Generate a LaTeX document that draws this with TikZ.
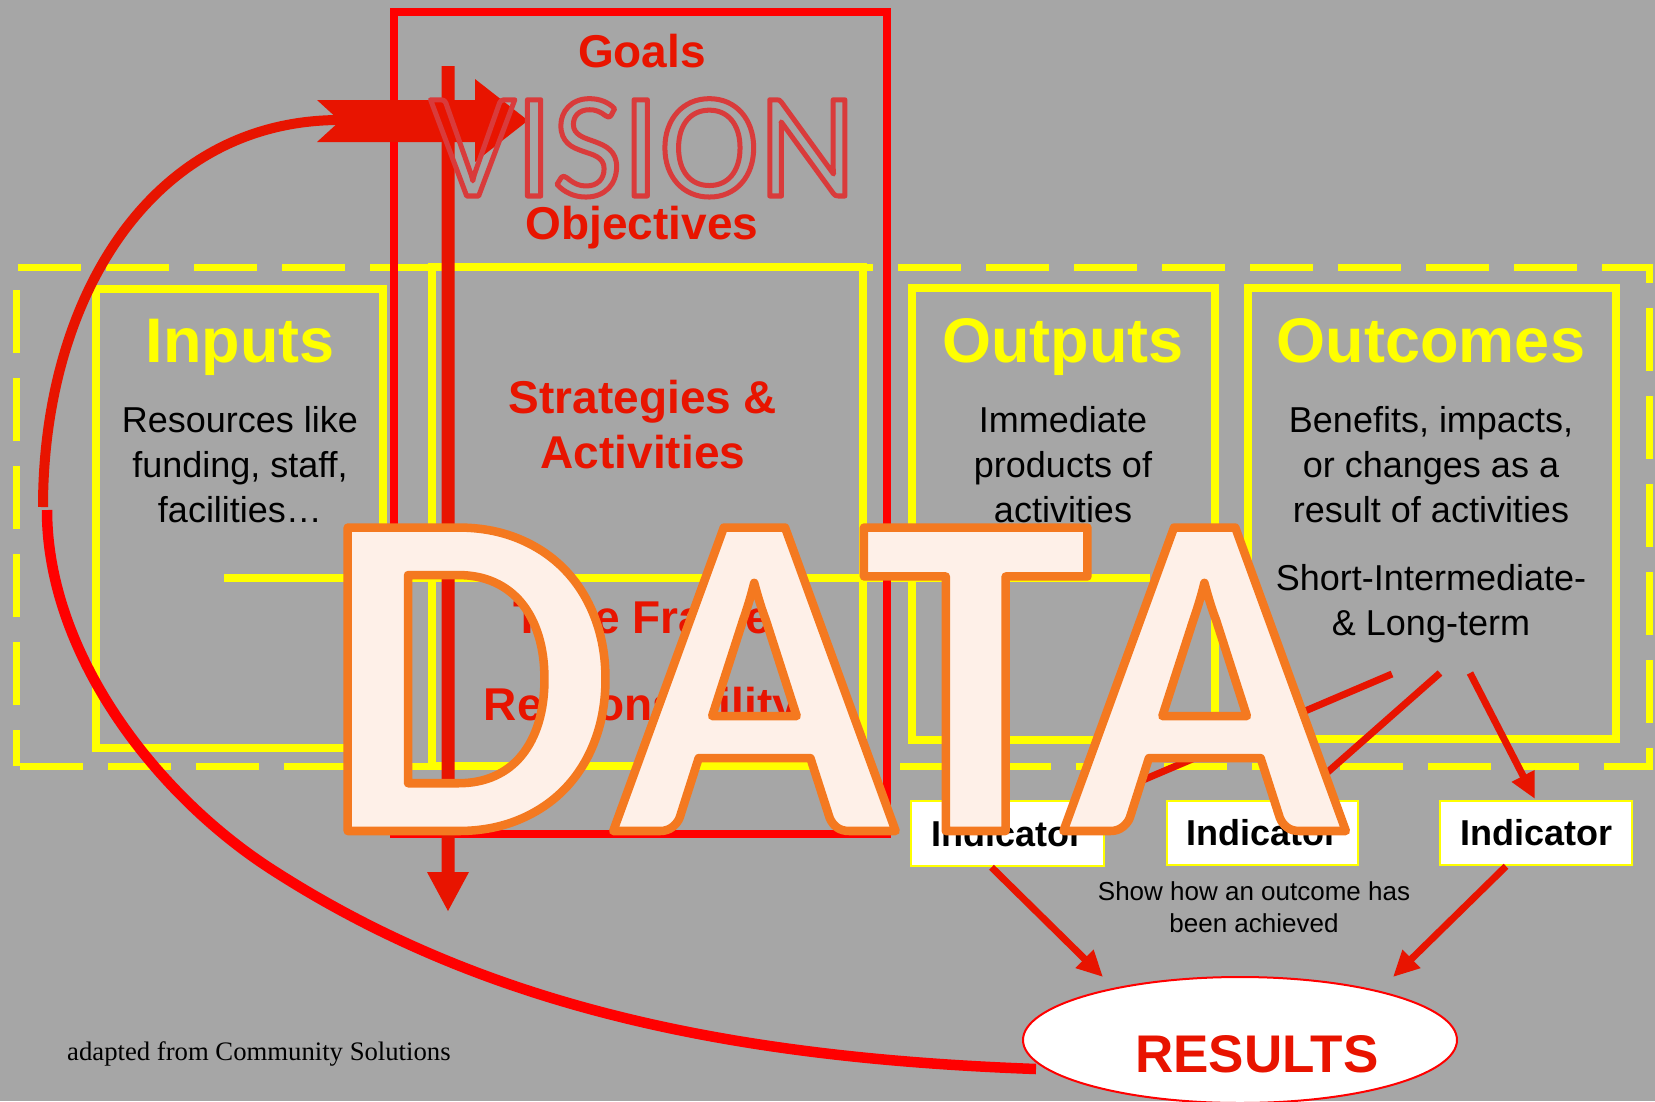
\documentclass[tikz,border=0pt]{standalone}
\usepackage{fontspec}
\setmainfont{Liberation Sans}
\newfontfamily\visfont{Carlito}
\newfontfamily\datafont{Carlito}[Kerning=Off]
\newfontfamily\serfont{Liberation Serif}
\usetikzlibrary{arrows.meta,shapes.geometric,calc}

\definecolor{bg}{HTML}{A6A6A6}
\definecolor{yel}{HTML}{FFFF00}
\definecolor{rd}{HTML}{FF0000}
\definecolor{ard}{HTML}{E81400}
\definecolor{txtred}{HTML}{E81400}
\definecolor{datafill}{HTML}{FEF0E8}
\definecolor{visred}{HTML}{D93B3B}

\newcommand\strokeonly[2]{\special{pdf:literal direct 1 Tr #1 w 1 j}#2\special{pdf:literal direct 0 Tr}}
\newcommand\fillstroke[3]{\special{pdf:literal direct 2 Tr #1 w 1 j #2 RG}#3\special{pdf:literal direct 0 Tr}}

\begin{document}
\begin{tikzpicture}[x=1pt,y=-1pt,
  ybox/.style={draw=yel, line width=7.5pt},
  ydash/.style={yel, line width=7pt, dash pattern=on 63pt off 25pt},
  ttl/.style={text=yel, font=\bfseries\fontsize{63}{63}\selectfont, inner sep=0pt, anchor=base},
  body/.style={text=black, font=\fontsize{36}{44.6}\selectfont, align=center, inner sep=0pt, anchor=base},
  rlab/.style={text=txtred, font=\bfseries\fontsize{46}{55}\selectfont, align=center, inner sep=0pt, anchor=base},
  indic/.style={draw=yel, fill=white, line width=2.5pt, minimum width=192pt, minimum height=64pt, inner sep=0pt, font=\bfseries\fontsize{36}{36}\selectfont},
  rarrow/.style={draw=ard, line width=7pt, -{Triangle[length=26pt,width=24pt]}},
]
\useasboundingbox (0,0) rectangle (1655,1101);
\fill[bg] (0,0) rectangle (1655,1101);

% yellow frames
\draw[ydash, dash phase=86pt] (16,267) -- (1649,267) -- (1649,766) -- (16,766);
\draw[ydash, dash phase=27pt] (16,766) -- (16,267);
\draw[ybox] (96,289) rectangle (383,748);
\draw[ybox] (432,267) rectangle (863,766);
\draw[ybox] (912,288) rectangle (1215,740);
\draw[ybox] (1248,288) rectangle (1616,739);
\draw[ybox] (224,578) -- (1150,578);

% red vision frame
\draw[rd, line width=8pt] (394,12) rectangle (887,834);

% texts (anchor=base of a multi-line node = baseline of its last line)
\node[ttl] (inputs) at (240,362) {Inputs};
\node[body] (inputsb) at (240,522) {Resources like\\funding, staff,\\facilities…};
\node[ttl] (outputs) at (1063,362) {Outputs};
\node[body] (outputsb) at (1063,522) {Immediate\\products of\\activities};
\node[ttl] (outcomes) at (1431,362) {Outcomes};
\node[body] (outcomesb) at (1431,522) {Benefits, impacts,\\or changes as a\\result of activities};
\node[body] (terms) at (1431,635) {Short-Intermediate-\\\& Long-term};
\node[rlab] (goals) at (642,67) {Goals};
\node[rlab] (obj) at (642,239) {Objectives};
\node[rlab] (strat) at (643,468) {Strategies \&\\Activities};
\node[rlab] (time) at (642,633) {Time Frame};
\node[rlab] (resp) at (641,720) {Responsibility};

% arrows of the vision frame
\fill[ard] (441.5,66) -- (454.5,66) -- (454.5,872) -- (469,872) -- (448,911) -- (427,872) -- (441.5,872) -- cycle;
\fill[ard] (317,100) -- (475,100) -- (475,79) -- (528,120.5) -- (475,162) -- (475,142) -- (317,142) -- (340,121) -- cycle;

\node[anchor=base, inner sep=0pt] (vision) at (643,196) {\visfont\fontsize{150}{150}\selectfont\color{visred}\strokeonly{5}{VISION}};

% feedback curve
\coordinate (cu1) at (43,507);
\coordinate (cu2) at (340,120);
\coordinate (cl1) at (47,510);
\coordinate (cl2) at (1036,1069);
\draw[ard, line width=10pt] (cu1) .. controls (43,300) and (150,120) .. (cu2);
\draw[rd, line width=10.5pt] (cl1) .. controls (47,650) and (151,790) .. (268,867) .. controls (486,1009) and (736,1058) .. (cl2);

% indicators and results
\node[indic, minimum width=193pt, minimum height=65pt] (ind1) at (1007.5,833.5) {Indicator};
\node[indic, minimum width=191pt] (ind2) at (1262.5,833) {Indicator};
\node[indic] (ind3) at (1536,833) {Indicator};

\node[ellipse, draw=rd, fill=white, line width=2pt, minimum width=434pt, minimum height=126pt, inner sep=0pt] (res) at (1240,1040) {};
\node[text=txtred, font=\bfseries\fontsize{53}{53}\selectfont, anchor=base, inner sep=0pt] (restext) at (1257,1072) {RESULTS};

\node[font=\fontsize{26}{32}\selectfont, align=center, anchor=base, inner sep=0pt] (show) at (1254,932) {Show how an outcome has\\been achieved};
\node[font=\serfont\fontsize{26.7}{27}\selectfont, anchor=base west, inner sep=0pt] (src) at (67,1060) {adapted from Community Solutions};

\coordinate (o1) at (1392,674);
\coordinate (o2) at (1440,673);
\coordinate (o3) at (1470,673);
\coordinate (t1) at (1096,800);
\coordinate (t2) at (1296,800);
\coordinate (t3) at (1535,799);
\coordinate (r1) at (1103,977);
\coordinate (r3) at (1393,977);
\draw[rarrow] (o1) -- (t1);
\draw[rarrow] (o2) -- (t2);
\draw[rarrow] (o3) -- (t3);
\draw[rarrow] ($(ind1.south)+(-16,0)$) -- (r1);
\draw[rarrow] ($(ind3.south)+(-30,0)$) -- (r3);

% DATA
\node[anchor=base west, inner sep=0pt] (data) at (321,831) {\datafont\bfseries\fontsize{468}{468}\selectfont\color{datafill}\fillstroke{8.5}{0.957 0.475 0.125}{D\kern-4ptA\kern-36ptT\kern-29ptA}};
\end{tikzpicture}
\end{document}
